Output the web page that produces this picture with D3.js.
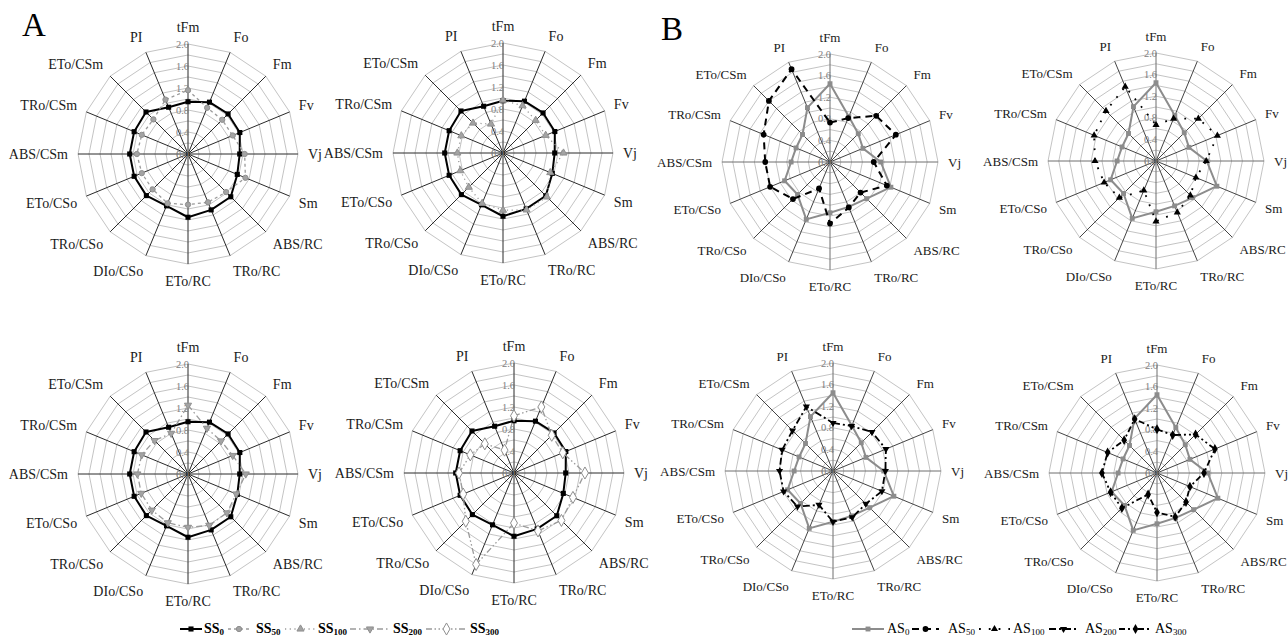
<!DOCTYPE html>
<html><head><meta charset="utf-8">
<script src="https://cdn.jsdelivr.net/npm/d3@7"></script>
<style>body{margin:0;background:#fff}svg{display:block}</style>
</head><body><svg id="c" width="1288" height="640"></svg>
<script>
// ---------------- DATA ----------------
const axes = ["tFm","Fo","Fm","Fv","Vj","Sm","ABS/RC","TRo/RC","ETo/RC","DIo/CSo","TRo/CSo","ETo/CSo","ABS/CSm","TRo/CSm","ETo/CSm","PI"];
const tickValues = [0.0, 0.4, 0.8, 1.2, 1.6, 2.0];
const tickLabels = ["0.0","0.4","0.8","1.2","1.6","2.0"];
const gridValues = [0.2,0.4,0.6,0.8,1.0,1.2,1.4,1.6,1.8,2.0];

const SS0   = [0.95,1.02,1.03,1.02,0.94,0.97,1.10,1.10,1.15,1.02,1.07,1.06,1.06,1.06,1.08,0.92];
const SS50  = [1.16,0.91,0.88,0.88,1.03,1.13,0.98,0.95,0.92,0.97,0.91,0.91,0.93,0.91,0.89,1.07];
const SS100 = [0.96,0.93,0.84,0.84,1.10,0.93,1.13,1.12,1.04,0.99,0.88,0.84,0.83,0.82,0.77,0.57];
const SS200 = [1.25,0.90,0.85,0.88,1.05,0.95,1.00,1.01,0.97,0.96,0.93,0.92,0.92,0.91,0.86,0.80];
const SS300 = [1.04,1.30,0.97,0.96,1.29,1.16,1.22,1.14,0.91,1.80,1.24,1.00,1.00,0.86,0.75,0.45];

const AS0   = [1.45,0.91,0.74,0.66,0.94,1.22,0.96,0.90,0.94,1.15,0.85,0.91,0.72,0.68,0.72,1.09];
const AS50  = [0.73,0.88,1.21,1.32,0.81,1.14,0.80,0.91,1.14,0.53,0.97,1.20,1.20,1.33,1.60,1.86];
const AS100 = [0.67,0.85,1.11,1.23,0.93,0.80,0.90,1.03,1.12,0.59,0.96,1.04,1.13,1.24,1.31,1.49];
const AS200 = [0.89,0.90,1.02,1.06,0.97,0.98,0.86,0.93,0.94,0.68,0.93,0.99,0.99,1.02,1.06,1.29];
const AS300 = [0.81,0.76,1.01,1.16,0.87,0.66,0.76,0.88,0.73,0.43,0.92,0.93,1.02,0.99,0.86,1.08];

const legendA = [["SS","0"],["SS","50"],["SS","100"],["SS","200"],["SS","300"]];
const legendB = [["AS","0"],["AS","50"],["AS","100"],["AS","200"],["AS","300"]];

// ---------------- STYLES / LAYOUT ----------------
const grayA = "#9a9a9a";
const styles = {
  SS0:  {stroke:"#000", width:2, dash:null, sym:d3.symbolSquare, size:26, fill:"#000", ms:"none", rot:0},
  SS50: {stroke:grayA, width:1.3, dash:"3,3", sym:d3.symbolCircle, size:22, fill:"#a3a3a3", ms:"#8f8f8f", rot:0},
  SS100:{stroke:grayA, width:1.3, dash:"1.2,3.5", sym:d3.symbolTriangle, size:22, fill:"#a3a3a3", ms:"#8f8f8f", rot:0},
  SS200:{stroke:grayA, width:1.3, dash:"6,3,1.5,3", sym:d3.symbolTriangle, size:22, fill:"#a3a3a3", ms:"#8f8f8f", rot:180},
  SS300:{stroke:grayA, width:1.3, dash:"6,2.5,1.5,2.5,1.5,2.5", sym:d3.symbolDiamond, size:42, fill:"#fff", ms:"#8f8f8f", rot:0},
  AS0:  {stroke:"#8c8c8c", width:2, dash:null, sym:d3.symbolSquare, size:24, fill:"#8c8c8c", ms:"none", rot:0},
  AS50: {stroke:"#000", width:2, dash:"7,5", sym:d3.symbolCircle, size:26, fill:"#000", ms:"none", rot:0},
  AS100:{stroke:"#000", width:1.8, dash:"1.8,8", sym:d3.symbolTriangle, size:22, fill:"#000", ms:"none", rot:0},
  AS200:{stroke:"#000", width:1.8, dash:"7,3,2,3", sym:d3.symbolTriangle, size:22, fill:"#000", ms:"none", rot:180},
  AS300:{stroke:"#000", width:1.8, dash:"6,3,2,3,2,3", sym:d3.symbolDiamond, size:28, fill:"#000", ms:"none", rot:0}
};

const radars = [
  {cx:188, cy:154, R:110, fs:14, spoke:"#2a2a2a", spokeMain:"#2a2a2a", series:[["SS0",SS0],["SS50",SS50]]},
  {cx:503, cy:153, R:110, fs:14, spoke:"#2a2a2a", spokeMain:"#2a2a2a", series:[["SS0",SS0],["SS100",SS100]]},
  {cx:188, cy:474, R:110, fs:14, spoke:"#2a2a2a", spokeMain:"#2a2a2a", series:[["SS0",SS0],["SS200",SS200]]},
  {cx:514, cy:473, R:110, fs:14, spoke:"#2a2a2a", spokeMain:"#2a2a2a", series:[["SS0",SS0],["SS300",SS300]]},
  {cx:830, cy:162, R:108, fs:13, spoke:"#444", spokeMain:"#6e6e6e", series:[["AS0",AS0],["AS50",AS50]]},
  {cx:1156,cy:161, R:108, fs:13, spoke:"#444", spokeMain:"#6e6e6e", series:[["AS0",AS0],["AS100",AS100]]},
  {cx:833, cy:471, R:108, fs:13, spoke:"#444", spokeMain:"#6e6e6e", series:[["AS0",AS0],["AS200",AS200]]},
  {cx:1157,cy:473, R:108, fs:13, spoke:"#444", spokeMain:"#6e6e6e", series:[["AS0",AS0],["AS300",AS300]]}
];

const svg = d3.select("#c");
const N = axes.length;
const ang = i => i * 2 * Math.PI / N;
const serif = "'Liberation Serif','Times New Roman',serif";

radars.forEach(rd => {
  const g = svg.append("g").attr("transform", `translate(${rd.cx},${rd.cy})`);
  const r = d3.scaleLinear().domain([0, 2]).range([0, rd.R]);
  const ring = d3.lineRadial().angle((d, i) => ang(i)).radius(d => r(d)).curve(d3.curveLinearClosed);

  g.selectAll("path.ring").data(gridValues).join("path")
    .attr("class","ring")
    .attr("d", v => ring(axes.map(() => v)))
    .attr("fill","none").attr("stroke","#c4c4c4").attr("stroke-width",1);

  g.selectAll("line.spoke").data(axes).join("line")
    .attr("x1",0).attr("y1",0)
    .attr("x2",(d,i)=>r(2)*Math.sin(ang(i)))
    .attr("y2",(d,i)=>-r(2)*Math.cos(ang(i)))
    .attr("stroke",(d,i)=> i%4===0 ? rd.spokeMain : rd.spoke)
    .attr("stroke-width",1);

  g.selectAll("text.tick").data(tickValues).join("text")
    .attr("x",1).attr("y", v => -r(v)).attr("dy","0.35em")
    .attr("text-anchor","end")
    .attr("font-family",serif).attr("font-size",10.5)
    .attr("fill","#808080")
    .text((v,i)=>tickLabels[i]);

  const lab = g.selectAll("text.lab").data(axes).join("text")
    .attr("font-family",serif).attr("font-size",rd.fs).attr("fill","#1a1a1a")
    .attr("text-anchor","middle").attr("dy","0.35em")
    .text(d=>d);
  lab.each(function(d,i){
    const w = this.getComputedTextLength();
    const h = rd.fs;
    const s = Math.sin(ang(i)), c = Math.cos(ang(i));
    const rr = rd.R + 10;
    let ox = 0;
    if (Math.abs(s) > 0.05) ox = Math.sign(s) * (w/2) * Math.min(1, Math.abs(s)*2.5);
    const oy = -c * h/2;
    d3.select(this).attr("x", rr*s + ox).attr("y", -rr*c + oy);
  });

  rd.series.forEach(([key, vals]) => {
    const st = styles[key];
    g.append("path")
      .attr("d", ring(vals))
      .attr("fill","none").attr("stroke",st.stroke).attr("stroke-width",st.width)
      .attr("stroke-dasharray", st.dash).attr("stroke-linejoin","round");
    g.selectAll(null).data(vals).join("path")
      .attr("d", d3.symbol().type(st.sym).size(st.size))
      .attr("transform",(v,i)=>`translate(${r(v)*Math.sin(ang(i))},${-r(v)*Math.cos(ang(i))}) rotate(${st.rot})`)
      .attr("fill",st.fill).attr("stroke",st.ms).attr("stroke-width",1);
  });
});

svg.append("text").attr("x",22).attr("y",36).attr("font-family",serif).attr("font-size",33).text("A");
svg.append("text").attr("x",661).attr("y",40).attr("font-family",serif).attr("font-size",33).text("B");

function legend(items, keys, pos, bold) {
  items.forEach((it, k) => {
    const st = styles[keys[k]];
    const p = pos[k];
    const y = 629;
    svg.append("line").attr("x1",p[0]).attr("x2",p[1]).attr("y1",y).attr("y2",y)
      .attr("stroke",st.stroke).attr("stroke-width",st.width).attr("stroke-dasharray",st.dash);
    svg.append("path").attr("d", d3.symbol().type(st.sym).size(st.size))
      .attr("transform",`translate(${(p[0]+p[1])/2},${y}) rotate(${st.rot})`)
      .attr("fill",st.fill).attr("stroke",st.ms).attr("stroke-width",1);
    const t = svg.append("text").attr("x",p[2]).attr("y",y+4)
      .attr("font-family",serif).attr("font-size",14).attr("font-weight",bold?"bold":"normal").attr("fill","#000");
    t.append("tspan").text(it[0]);
    t.append("tspan").attr("font-size",9).attr("dy",2).text(it[1]);
  });
}
legend(legendA, ["SS0","SS50","SS100","SS200","SS300"],
  [[180,202,204],[228,250,256],[285,316,318],[350,390,393],[426,467,470]], true);
legend(legendB, ["AS0","AS50","AS100","AS200","AS300"],
  [[852,884,887],[912,939,948],[979,1010,1013],[1049,1078,1085],[1119,1152,1155]], false);
</script></body></html>
